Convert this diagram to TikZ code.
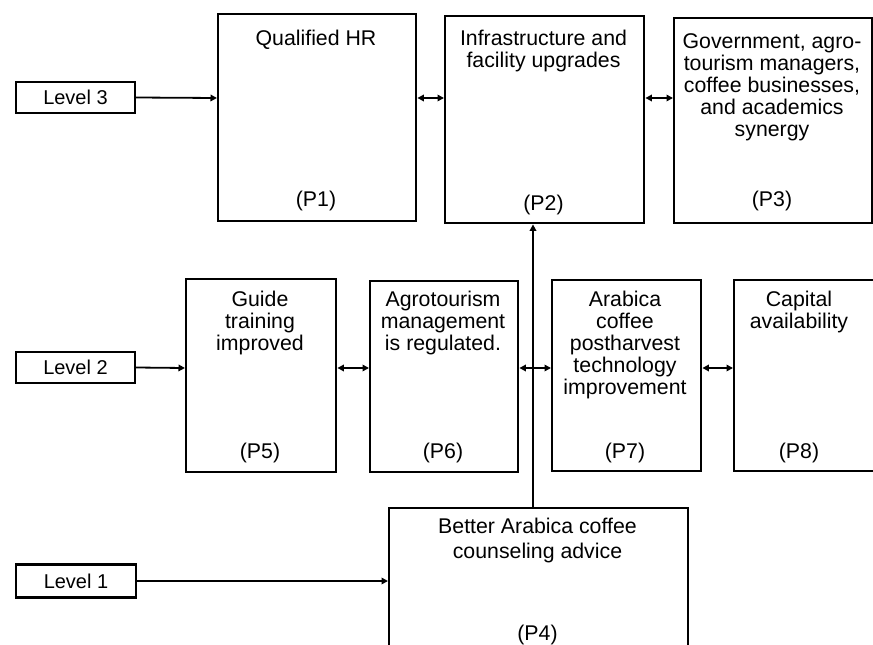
\documentclass[tikz,border=0pt]{standalone}
\usepackage{fontspec}
\setmainfont{Liberation Sans}
\usetikzlibrary{arrows.meta}

\begin{document}
\begin{tikzpicture}[x=1pt, y=-1pt,
  box/.style={draw, line width=2.4pt, inner sep=0pt, anchor=north west},
  lvl/.style={draw, line width=2.2pt, inner sep=0pt, font=\fontsize{20}{22}\selectfont},
  txt/.style={inner sep=0pt, align=center, anchor=north, font=\fontsize{21.3}{22}\selectfont},
  tag/.style={inner sep=0pt, anchor=base, font=\fontsize{21.3}{22}\selectfont},
  arr/.style={line width=1.8pt, -{Triangle[length=6.5pt,width=6.5pt]}},
  dbl/.style={line width=1.8pt, {Triangle[length=6.5pt,width=6.5pt]}-{Triangle[length=6.5pt,width=6.5pt]}}
]
\useasboundingbox (0,0) rectangle (873,645);
\clip (0,0) rectangle (873,645);

% level labels
\node[lvl, minimum width=119pt, minimum height=31pt] (l3) at (75.5,97.5) {Level 3};
\node[lvl, minimum width=119pt, minimum height=31pt] (l2) at (75.5,367.5) {Level 2};
\node[lvl, minimum width=120pt, minimum height=33pt] (l1) at (76,581) {Level 1};

% level 3 boxes
\node[box, minimum width=198pt, minimum height=207pt] (p1) at (217,13) {};
\node[box, minimum width=199pt, minimum height=207pt] (p2) at (444,15) {};
\node[box, minimum width=198pt, minimum height=205pt] (p3) at (673,17) {};

% level 2 boxes
\node[box, minimum width=150pt, minimum height=193pt] (p5) at (185,278) {};
\node[box, minimum width=148pt, minimum height=191pt] (p6) at (369,280) {};
\node[box, minimum width=149pt, minimum height=191pt] (p7) at (551,279) {};
\node[box, minimum width=160pt, minimum height=191pt] (p8) at (733,279) {};

% level 1 box
\node[box, minimum width=299pt, minimum height=160pt] (p4) at (388,507) {};

% box texts
\node[txt] (t1) at (316,30) {Qualified HR};
\node[txt] (t2) at (543.5,30) {Infrastructure and\\facility upgrades};
\node[txt] (t3) at (772,33) {Government, agro-\\tourism managers,\\coffee businesses,\\and academics\\synergy};
\node[txt] (t5) at (260,291) {Guide\\training\\improved};
\node[txt] (t6) at (443,291) {Agrotourism\\management\\is regulated.};
\node[txt] (t7) at (625,291) {Arabica\\coffee\\postharvest\\technology\\improvement};
\node[txt] (t8) at (799,291) {Capital\\availability};
\node[txt, font=\fontsize{21.3}{24.5}\selectfont] (t4) at (537.5,518) {Better Arabica coffee\\counseling advice};

% box tags
\node[tag] (g1) at (316,206) {(P1)};
\node[tag] (g2) at (543.5,210) {(P2)};
\node[tag] (g3) at (772,206) {(P3)};
\node[tag] (g5) at (260,458) {(P5)};
\node[tag] (g6) at (443,458) {(P6)};
\node[tag] (g7) at (625,458) {(P7)};
\node[tag] (g8) at (799,458) {(P8)};
\node[tag] (g4) at (537.5,640) {(P4)};

% connector rows
\coordinate (r3) at (0,98);
\coordinate (r2) at (0,368);
\coordinate (vx) at (533,0);

\draw[arr] (l3.east) -- (p1.west |- r3);
\draw[arr] (l2.east) -- (p5.west |- r2);
\draw[arr] (l1.east) -- (l1.east -| p4.west);

\draw[dbl] (p1.east |- r3) -- (p2.west |- r3);
\draw[dbl] (p2.east |- r3) -- (p3.west |- r3);
\draw[dbl] (p5.east |- r2) -- (p6.west |- r2);
\draw[dbl] (p6.east |- r2) -- (p7.west |- r2);
\draw[dbl] (p7.east |- r2) -- (p8.west |- r2);

\draw[arr] (p4.north -| vx) -- (p2.south -| vx);
\end{tikzpicture}
\end{document}
